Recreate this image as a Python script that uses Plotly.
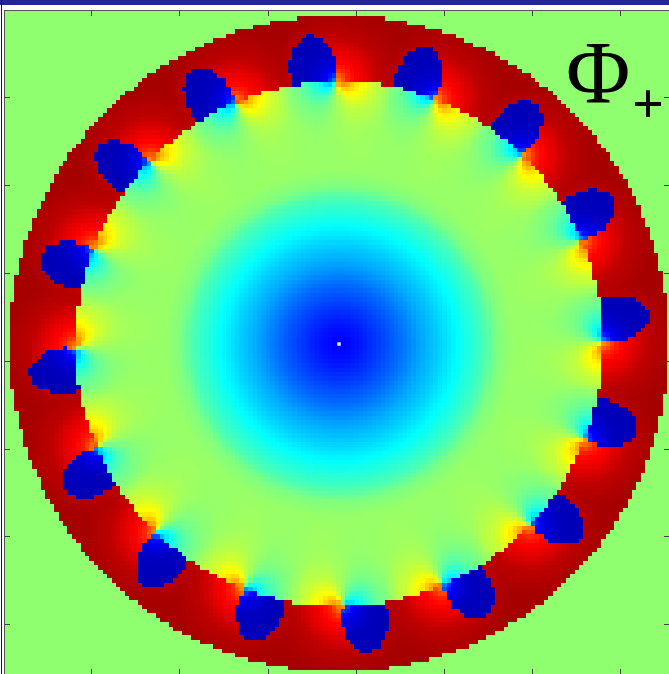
import numpy as np
import plotly.graph_objects as go

# Grid and geometry (grid cells; one cell = 4.4 px)
n_cells = 151
centre_cell = 76.1
cell_px = 4.4
inner_radius_px = 263
outer_radius_px = 329

# Angular position of each blue lobe (deg, counter-clockwise from +x)
lobe_angles = [95.4, 73.4, 50.6, 27.9, 5.2, -16.7, -39.0, -62.2, -84.6,
               -106.5, -129.3, -152.2, -174.4, 163.4, 140.5, 117.8]
singularity_offset_deg = -4.7

# Background radial profile inside the inner disc
profile_r = [0, 20, 40, 60, 82, 100, 116, 135, 146, 158, 175, 263]
profile_v = [0.12, 0.145, 0.185, 0.23, 0.29, 0.33, 0.37, 0.42, 0.45, 0.50, 0.525, 0.53]

# Dipole strength inside the disc vs distance from the edge point
dipole_d = [0, 10, 20, 35, 60, 90]
dipole_a = [0.28, 0.20, 0.13, 0.07, 0.02, 0.0]

# Blue lobe outline: half width (px) vs depth into the ring (px)
lobe_depth = [0, 5, 10, 15, 20, 25, 30, 35, 40, 45, 48]
lobe_half_width = [20, 22, 23, 23, 23, 22, 20, 18, 14, 9, 0]

# Values along distance from the edge point
blue_d = [0, 8, 16, 30, 60]
blue_v = [0.28, 0.14, 0.09, 0.06, 0.05]
red_d = [0, 6, 12, 20, 30, 45, 70]
red_v = [0.72, 0.78, 0.84, 0.875, 0.90, 0.94, 0.9625]

background_value = 0.516

jet_stops = [0.0, 0.125, 0.375, 0.625, 0.875, 1.0]
jet_colors = ["#000080", "#0000ff", "#00ffff", "#ffff00", "#ff0000", "#800000"]

ticks = [20, 40, 60, 80, 100, 120, 140]

cells = np.arange(1, n_cells + 1)
xx, yy = np.meshgrid(cells, cells)
px = (xx - centre_cell) * cell_px
py = (centre_cell - yy) * cell_px  # up is positive
rr = np.hypot(px, py)
th = np.arctan2(py, px)

z = np.full(rr.shape, background_value)
inner = rr < inner_radius_px
ring = (rr >= inner_radius_px) & (rr <= outer_radius_px)

z[inner] = np.interp(rr[inner], profile_r, profile_v)
z[ring] = red_v[-1]

for a in lobe_angles:
    s_rad = np.radians(a + singularity_offset_deg)
    sx = inner_radius_px * np.cos(s_rad)
    sy = inner_radius_px * np.sin(s_rad)
    d = np.hypot(px - sx, py - sy)
    # tangential offset towards the lobe (counter-clockwise)
    t = -(px - sx) * np.sin(s_rad) + (py - sy) * np.cos(s_rad)
    s = t / np.maximum(d, 1e-6)
    z[inner] -= (np.interp(d, dipole_d, dipole_a) * s)[inner]
    # red glow on the clockwise side of the edge point
    glow = np.interp(d, red_d, red_v)
    z[ring] = np.minimum(z[ring], glow[ring])
for a in lobe_angles:
    s_rad = np.radians(a + singularity_offset_deg)
    sx = inner_radius_px * np.cos(s_rad)
    sy = inner_radius_px * np.sin(s_rad)
    d = np.hypot(px - sx, py - sy)
    da = (np.degrees(th) - a + 180) % 360 - 180
    u = np.radians(da) * rr
    w = rr - inner_radius_px
    hw = np.interp(w, lobe_depth, lobe_half_width)
    mask = ring & (np.abs(u) < hw) & (w < lobe_depth[-1])
    z[mask] = np.interp(d, blue_d, blue_v)[mask]

fig = go.Figure()
fig.add_trace(go.Heatmap(
    x=cells, y=cells, z=z, zmin=0, zmax=1, showscale=False, hoverinfo="skip",
    colorscale=[[s, c] for s, c in zip(jet_stops, jet_colors)],
))
fig.add_trace(go.Scatter(
    x=[centre_cell], y=[centre_cell], mode="markers", hoverinfo="skip",
    marker=dict(size=3.5, color="#d8f4ff", symbol="square"), showlegend=False,
))

axis_common = dict(
    showgrid=False, zeroline=False, showticklabels=False,
    tickvals=ticks, ticks="inside", ticklen=5, tickwidth=1, tickcolor="#444",
    showline=True, linecolor="#555", linewidth=1, mirror="ticks",
)
fig.update_xaxes(range=[0.35, 150.95], **axis_common)
fig.update_yaxes(range=[151.2, 0.3], **axis_common)

W, H = 669, 674
L, T = 5, 11
fig.update_layout(
    width=W, height=H, autosize=False,
    margin=dict(l=L, r=0, t=T, b=0),
    paper_bgcolor="white", plot_bgcolor="#90ff70", showlegend=False,
    shapes=[
        dict(type="rect", xref="paper", yref="paper", x0=-0.01, x1=1.01,
             y0=1 + (T - 5) / (H - T), y1=1 + T / (H - T), fillcolor="#25259b", line_width=0),
        dict(type="rect", xref="paper", yref="paper", x0=-4 / (W - L), x1=-3 / (W - L),
             y0=-0.01, y1=1.02, fillcolor="#101060", line_width=0),
    ],
    annotations=[
        dict(text="Φ", x=(598 - L) / (W - L), y=1 - (72 - T) / (H - T), xref="paper", yref="paper",
             xanchor="center", yanchor="middle", showarrow=False,
             font=dict(family="Liberation Serif", size=88, color="black")),
        dict(text="<b>+</b>", x=(648 - L) / (W - L), y=1 - (104 - T) / (H - T), xref="paper", yref="paper",
             xanchor="center", yanchor="middle", showarrow=False,
             font=dict(family="Liberation Serif", size=56, color="black")),
    ],
)

fig.write_html("out.html", config={"displayModeBar": False},
               post_script="document.body.style.margin='0';document.documentElement.style.overflow='hidden';")
